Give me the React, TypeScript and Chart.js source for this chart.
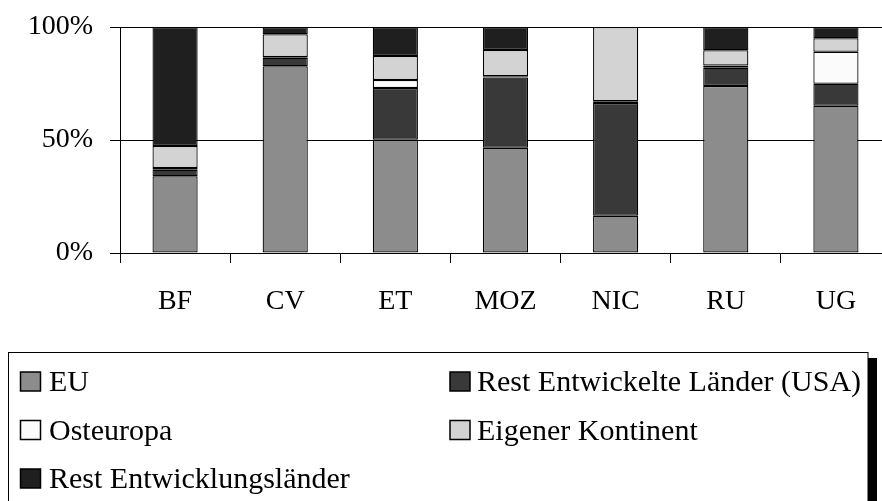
import React, { useEffect, useRef } from "react";
import { Chart, registerables } from "chart.js";

Chart.register(...registerables);

const categories = ["BF", "CV", "ET", "MOZ", "NIC", "RU", "UG"];
const euValues = [34.0, 82.6, 50.1, 46.6, 16.5, 73.9, 65.2];
const restDevelopedValues = [2.8, 3.8, 22.9, 31.0, 49.9, 8.1, 9.7];
const easternEuropeValues = [0.8, 0.3, 3.5, 0.6, 0.7, 1.0, 14.2];
const ownContinentValues = [9.7, 10.1, 10.7, 11.6, 32.9, 6.7, 5.9];
const restDevelopingValues = [52.7, 3.2, 12.8, 10.2, 0, 10.3, 5.0];
const seriesLabels = [
  "EU",
  "Rest Entwickelte Länder (USA)",
  "Osteuropa",
  "Eigener Kontinent",
  "Rest Entwicklungsländer",
];
const seriesColors = ["#8c8c8c", "#393939", "#fbfbfb", "#d3d3d3", "#1f1f1f"];
const yMax = 100;
const yStep = 50;

const FONT = "'Liberation Serif', 'Times New Roman', serif";

const boxLegend = {
  id: "boxLegend",
  afterDraw(chart: any) {
    const ctx = chart.ctx as CanvasRenderingContext2D;
    ctx.save();
    // shadow
    ctx.fillStyle = "#000";
    ctx.fillRect(868, 358, 9, 200);
    // box
    ctx.fillStyle = "#fff";
    ctx.fillRect(8.5, 352.5, 859.5, 200);
    ctx.strokeStyle = "#000";
    ctx.lineWidth = 1;
    ctx.strokeRect(8.5, 352.5, 859.5, 200);

    const colSwatchX = [20, 449.5];
    const colTextX = [49, 477];
    const rowBaseline = [391, 439.5, 488];
    ctx.font = `30px ${FONT}`;
    ctx.textBaseline = "alphabetic";
    ctx.textAlign = "left";
    chart.data.datasets.forEach((ds: any, i: number) => {
      const col = i % 2;
      const row = Math.floor(i / 2);
      const sx = colSwatchX[col];
      const sy = rowBaseline[row] - 19.5;
      ctx.fillStyle = ds.backgroundColor;
      ctx.fillRect(sx + 0.5, sy + 0.5, 20, 19);
      ctx.strokeStyle = "#000";
      ctx.lineWidth = 1.5;
      ctx.strokeRect(sx + 0.5, sy + 0.5, 20, 19);
      ctx.fillStyle = "#000";
      ctx.fillText(ds.label, colTextX[col], rowBaseline[row]);
    });
    ctx.restore();
  },
};

export default function App() {
  const canvasRef = useRef<HTMLCanvasElement | null>(null);

  useEffect(() => {
    const canvas = canvasRef.current;
    if (!canvas) return;
    const seriesValues = [
      euValues,
      restDevelopedValues,
      easternEuropeValues,
      ownContinentValues,
      restDevelopingValues,
    ];
    const chart = new Chart(canvas, {
      type: "bar",
      data: {
        labels: categories,
        datasets: seriesLabels.map((label, i) => ({
          label,
          data: seriesValues[i],
          backgroundColor: seriesColors[i],
          borderColor: "#000",
          borderWidth: 1.25,
          borderSkipped: false,
          barPercentage: 0.41,
          categoryPercentage: 1,
        })),
      },
      options: {
        responsive: false,
        animation: false,
        devicePixelRatio: 1,
        layout: { padding: { top: 27, bottom: 188, left: 0, right: 0 } },
        plugins: {
          legend: { display: false },
          tooltip: { enabled: false },
        },
        scales: {
          x: {
            stacked: true,
            grid: {
              offset: true,
              drawOnChartArea: false,
              drawTicks: true,
              tickLength: 10,
              color: "#000",
              lineWidth: 1,
            },
            border: { display: true, color: "#000", width: 1 },
            ticks: {
              color: "#000",
              font: { family: FONT, size: 28 },
              padding: 22,
              maxRotation: 0,
              autoSkip: false,
            },
            afterFit(scale: any) {
              scale.height = 60;
              scale.paddingLeft = 0;
              scale.paddingRight = 0;
            },
          },
          y: {
            stacked: true,
            min: 0,
            max: yMax,
            grid: {
              color: "#000",
              lineWidth: 1,
              drawTicks: true,
              tickLength: 10,
            },
            border: { display: true, color: "#000", width: 1 },
            ticks: {
              stepSize: yStep,
              color: "#000",
              font: { family: FONT, size: 28 },
              padding: 17,
              callback: (v: any) => `${v}%`,
            },
            afterFit(scale: any) {
              scale.width = 120;
              scale.paddingTop = 0;
              scale.paddingBottom = 0;
            },
          },
        },
      },
      plugins: [boxLegend],
    });
    return () => chart.destroy();
  }, []);

  return (
    <div
      style={{
        position: "fixed",
        left: 0,
        top: 0,
        width: 882,
        height: 501,
        overflow: "hidden",
        background: "#fff",
      }}
    >
      <canvas
        ref={canvasRef}
        width={891}
        height={501}
        style={{ display: "block", width: 891, height: 501 }}
      />
    </div>
  );
}
